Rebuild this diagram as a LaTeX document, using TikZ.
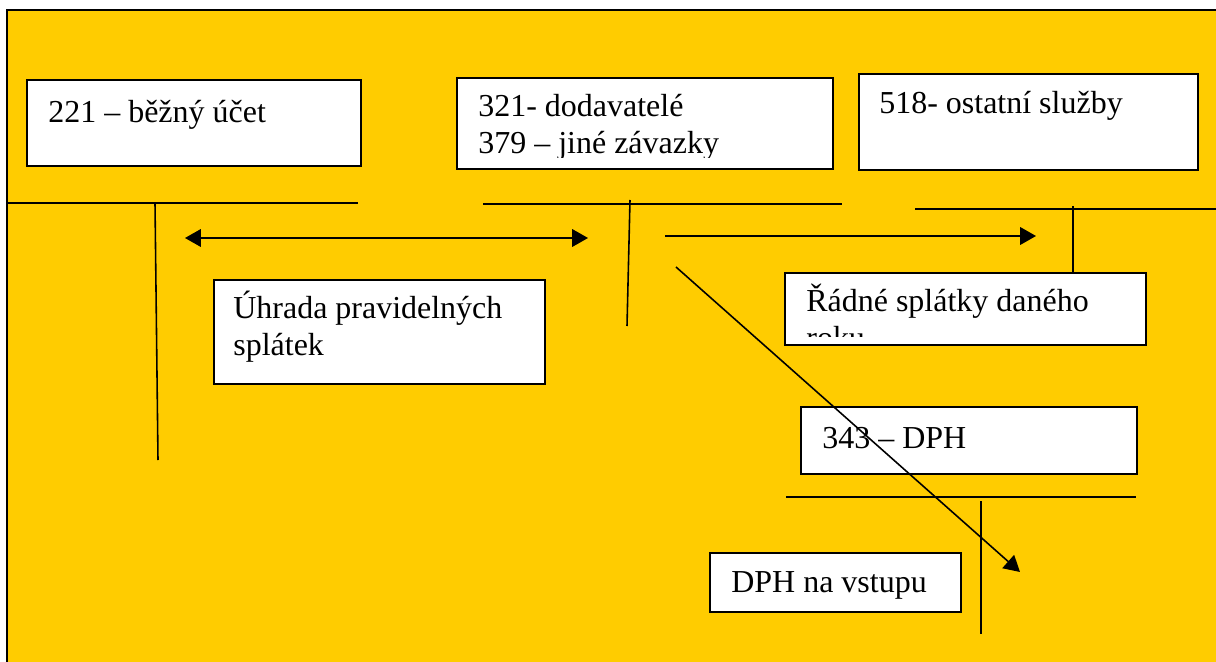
\documentclass[tikz,border=0pt]{standalone}
\usepackage{fontspec}
\setmainfont{Liberation Serif}
\usetikzlibrary{arrows.meta,fit}

\definecolor{ucetyellow}{RGB}{255,204,0}

\begin{document}
\begin{tikzpicture} [
    x=0.02cm, y=-0.02cm,
    acct/.style  = { rectangle, draw, fill=white, line width=1pt, inner sep=0pt },
    txt/.style   = { anchor=base west, inner sep=0pt,
                     font=\fontsize{18.2}{21}\selectfont },
    tline/.style = { draw, line width=0.9pt },
    arr/.style   = { draw, line width=0.9pt, -{Triangle[length=9pt,width=10pt]} },
    darr/.style  = { draw, line width=0.9pt,
                     {Triangle[length=9pt,width=10pt]}-{Triangle[length=9pt,width=10pt]} },
  ]

  % background
  \clip (0,0) rectangle (1216,662);
  \fill[ucetyellow] (7,10) rectangle (1230,680);
  \draw[line width=1pt] (7,680) -- (7,10) -- (1230,10);

  % account boxes
  \node[acct, fit={(27,80) (361,166)}]   (b221)  {};
  \node[acct, fit={(457,78) (833,169)}]  (b321)  {};
  \node[acct, fit={(859,74) (1198,170)}] (b518)  {};
  \node[acct, fit={(214,280) (545,384)}] (uhrada) {};
  \node[acct, fit={(785,273) (1146,345)}] (radne) {};
  \node[acct, fit={(801,407) (1137,474)}] (b343)  {};
  \node[acct, fit={(710,553) (961,612)}] (vstup) {};

  % texts
  \node[txt] (t221) at (48,123) {221 – běžný účet};
  \node[txt] (t321) at (478,117) {321- dodavatelé};
  \begin{scope}
    \clip (457,78) rectangle (833,158);
    \node[txt] (t379) at (478,154) {379 – jiné závazky};
  \end{scope}
  \node[txt] (t518) at (879,114) {518- ostatní služby};
  \node[txt] (tuhr1) at (233,318) {Úhrada pravidelných};
  \node[txt] (tuhr2) at (233,355) {splátek};
  \begin{scope}
    \clip (785,273) rectangle (1146,336);
    \node[txt] (trad1) at (806,311) {Řádné splátky daného};
    \node[txt] (trad2) at (806,348) {roku};
  \end{scope}
  \node[txt] (t343) at (822,448) {343 – DPH};
  \node[txt] (tvst) at (731,592) {DPH na vstupu};

  % T-accounts
  \coordinate (h221a) at (7,203);    \coordinate (h221b) at (358,203);
  \coordinate (v221a) at (155,203);  \coordinate (v221b) at (158,460);
  \coordinate (h321a) at (483,204);  \coordinate (h321b) at (842,204);
  \coordinate (v321a) at (630,200);  \coordinate (v321b) at (627,326);
  \coordinate (h518a) at (915,209);  \coordinate (h518b) at (1216,209);
  \coordinate (v518a) at (1073,206);
  \coordinate (h343a) at (786,497);  \coordinate (h343b) at (1136,497);
  \coordinate (v343a) at (981,501);  \coordinate (v343b) at (981,634);

  \path [tline] (h221a) -- (h221b);
  \path [tline] (v221a) -- (v221b);
  \path [tline] (h321a) -- (h321b);
  \path [tline] (v321a) -- (v321b);
  \path [tline] (h518a) -- (h518b);
  \path [tline] (v518a) -- (v518a |- radne.north);
  \path [tline] (h343a) -- (h343b);
  \path [tline] (v343a) -- (v343b);

  % arrows
  \coordinate (a1l) at (185,238);  \coordinate (a1r) at (588,238);
  \coordinate (a2l) at (665,236);  \coordinate (a2r) at (1036,236);
  \coordinate (a3a) at (676,267);  \coordinate (a3b) at (1020,572);

  \path [darr] (a1l) -- (a1r);
  \path [arr] (a2l) -- (a2r);
  \path [arr] (a3a) -- (a3b);
\end{tikzpicture}
\end{document}
